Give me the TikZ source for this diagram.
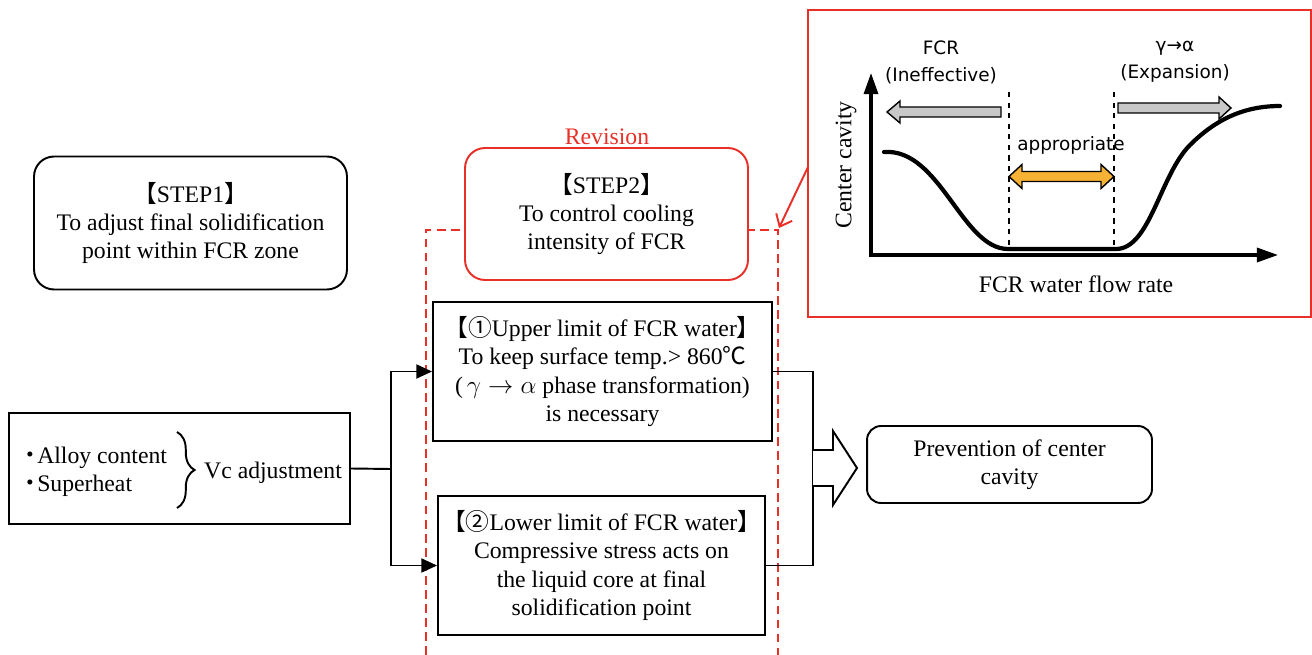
\documentclass[tikz,border=0pt]{standalone}
\usepackage{fontspec}
\setmainfont{Liberation Serif}
\newfontfamily\cjk{Noto Sans CJK JP}
\newfontfamily\insetsans{DejaVu Sans}
\usetikzlibrary{arrows.meta,decorations.pathreplacing}
\definecolor{revred}{RGB}{232,48,40}
\definecolor{flowgray}{RGB}{200,200,200}
\definecolor{okorange}{RGB}{245,178,52}
\begin{document}
\begin{tikzpicture}[x=0.02cm,y=-0.02cm,line width=1.1pt,
    every node/.style={font=\fontsize{13.5}{16}\selectfont,align=center},
    roundbox/.style={draw,rounded corners=0.4cm,inner sep=0pt},
    sharpbox/.style={draw,inner sep=0pt},
    flow/.style={-{Triangle[length=9pt,width=8pt]}},
    insetlabel/.style={font=\insetsans\fontsize{10.5}{15.4}\selectfont}]
    \useasboundingbox (0,0) rectangle (1312,655);

    % Drawing dashed revision zone
    \draw [revred,dash pattern=on 5pt off 3pt] (426,655) -- (426,230) -- (778,230) -- (778,655);%

    % Drawing box STEP1
    \node [roundbox,minimum width=6.26cm,minimum height=2.66cm] (step1) at (190.5,223)
        {{\cjk 【}STEP1{\cjk 】}\\To adjust final solidification\\point within FCR zone};%

    % Drawing box STEP2
    \node [roundbox,draw=revred,fill=white,minimum width=5.66cm,minimum height=2.64cm] (step2) at (606.5,214)
        {{\cjk 【}STEP2{\cjk 】}\\To control cooling\\intensity of FCR};%
    \node [text=revred] (rev) at (607,137) {Revision};%

    % Drawing box of factors
    \node [sharpbox,minimum width=6.82cm,minimum height=2.22cm] (factors) at (179.5,468.5) {};%
    \node [anchor=west] (alloy) at (12,458) {{\cjk ・}\kern-3pt Alloy content};%
    \node [anchor=west] (heat) at (12,486) {{\cjk ・}\kern-3pt Superheat};%
    \draw [decorate,decoration={brace,amplitude=10pt}] (177,432) -- (177,508);%
    \node (vc) at (273,473) {Vc adjustment};%

    % Drawing box 1 and box 2
    \node [sharpbox,minimum width=6.78cm,minimum height=2.78cm] (upper) at (602.5,371.5)
        {{\cjk 【①}Upper limit of FCR water{\cjk 】}\\To keep surface temp.\textgreater\ 860{\cjk ℃}\\
         (\,$\gamma\rightarrow\alpha$ phase transformation)\\is necessary};%
    \node [sharpbox,minimum width=6.54cm,minimum height=2.78cm] (lower) at (601.5,565.5)
        {{\cjk 【②}Lower limit of FCR water{\cjk 】}\\Compressive stress acts on\\
         the liquid core at final\\solidification point};%

    % Drawing box of result
    \node [roundbox,rounded corners=0.28cm,minimum width=5.7cm,minimum height=1.54cm] (result) at (1009.5,464.5)
        {Prevention of center\\cavity};%

    % Drawing connectors
    \coordinate (split) at (391,469);
    \coordinate (merge) at (813,468);
    \draw (factors.east) -- (split);%
    \draw [flow] (split) |- (upper.west);%
    \draw [flow] (split) |- (lower.west);%
    \draw (upper.east) -| (merge) |- (lower.east);%
    \draw [fill=white] (813,450) -- (833,450) -- (833,431) -- (857,468) -- (833,505) -- (833,486) -- (813,486);%

    % Drawing inset frame
    \node [draw=revred,minimum width=10.06cm,minimum height=6.14cm,inner sep=0pt] (inset) at (1059.5,163.5) {};%
    \coordinate (cue) at (808,167);
    \draw [revred,-{Straight Barb[length=6pt,width=10pt]}] (cue) -- (779,228);%

    % Drawing axes and curve
    \coordinate (orig) at (871,255);
    \draw [line width=1.8pt,{Triangle[length=12pt,width=8pt]}-{Triangle[length=12pt,width=8pt]}] (871,73) -- (orig) -- (1278,255);%
    \draw [line width=2.4pt,line cap=round] (884,152) .. controls (940,148) and (962,249) .. (1008,249) -- (1116,249)
        .. controls (1150,249) and (1160,175) .. (1190,145) .. controls (1220,115) and (1250,106) .. (1280,106);%
    \draw [line width=0.6pt,dashed] (1009,92) -- (1009,249);%
    \draw [line width=0.6pt,dashed] (1114,92) -- (1114,249);%

    % Drawing flow arrows
    \draw [line width=0.8pt,fill=flowgray] (1001,107) -- (900,107) -- (900,101) -- (887,112) -- (900,123) -- (900,117) -- (1001,117) -- cycle;%
    \draw [line width=0.8pt,fill=flowgray] (1118,103) -- (1219,103) -- (1219,97) -- (1231,108) -- (1219,119) -- (1219,113) -- (1118,113) -- cycle;%
    \draw [line width=0.8pt,fill=okorange] (1009,176.5) -- (1022,164.5) -- (1022,171.5) -- (1101,171.5) -- (1101,164.5) -- (1114,176.5)
        -- (1101,188.5) -- (1101,181.5) -- (1022,181.5) -- (1022,188.5) -- cycle;%

    % Marking inset labels
    \node [insetlabel] (ineff) at (941,62) {FCR\\(Ineffective)};%
    \node [insetlabel] (expand) at (1175,62) {γ→α\\(Expansion)};%
    \node [insetlabel] (approp) at (1071,145) {appropriate};%
    \node [rotate=90] (ylab) at (846,165) {Center cavity};%
    \node (xlab) at (1076,284) {FCR water flow rate};%
\end{tikzpicture}
\end{document}
